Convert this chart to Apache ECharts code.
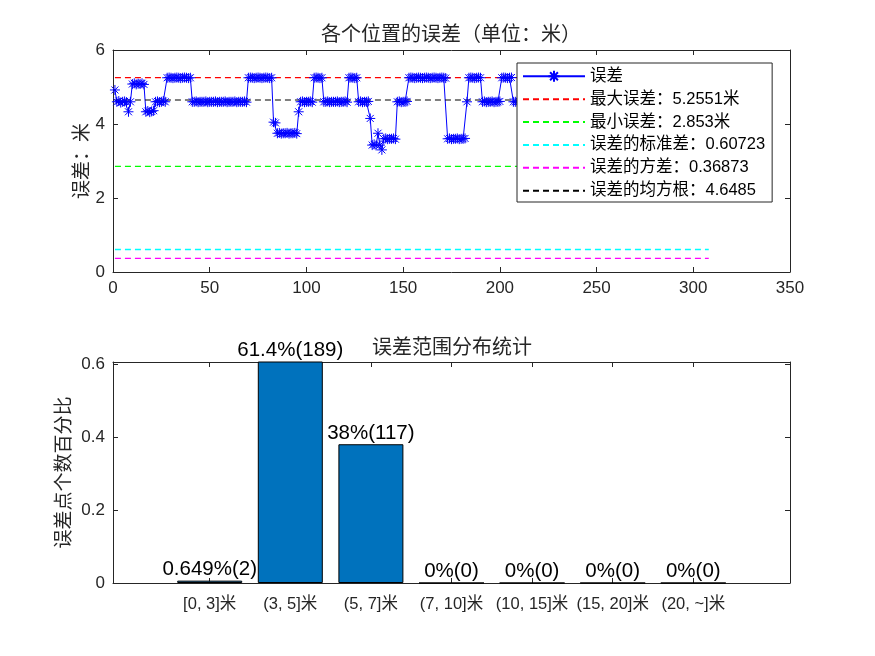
<!DOCTYPE html>
<html>
<head>
<meta charset="utf-8">
<script src="https://cdn.jsdelivr.net/npm/echarts@6/dist/echarts.min.js"></script>
<style>
    html, body { margin: 0; padding: 0; background: #fff; }
    #chart { width: 875px; height: 656px; }
</style>
</head>
<body>
<div id="chart"></div>
<script>
// 各点误差（米），按位置序号 1..308
var errorValues = [
    4.92,
    4.6, 4.62, 4.58, 4.6, 4.61, 4.59,
    4.33,
    4.6,
    5.08, 5.1, 5.07, 5.09, 5.08, 5.1, 5.07,
    4.33, 4.35, 4.32, 4.34, 4.36,
    4.6, 4.61, 4.59, 4.6, 4.62, 4.6,
    5.25, 5.2551, 5.25, 5.24, 5.25, 5.2551, 5.25, 5.24, 5.25, 5.2551, 5.25, 5.24, 5.25,
    4.6, 4.6, 4.61, 4.59, 4.6, 4.6, 4.6, 4.61, 4.59, 4.6, 4.6, 4.6, 4.61, 4.59, 4.6,
    4.6, 4.6, 4.61, 4.59, 4.6, 4.6, 4.6, 4.61, 4.59, 4.6, 4.6, 4.6, 4.61, 4.59,
    5.25, 5.2551, 5.25, 5.24, 5.25, 5.2551, 5.25, 5.24, 5.25, 5.2551, 5.25, 5.24, 5.25,
    4.05, 4.03,
    3.75, 3.76, 3.74, 3.75, 3.75, 3.76, 3.74, 3.75, 3.75, 3.76, 3.74,
    4.33,
    4.6, 4.61, 4.59, 4.6, 4.6, 4.61, 4.59,
    5.25, 5.2551, 5.25, 5.24, 5.25,
    4.6, 4.6, 4.61, 4.59, 4.6, 4.6, 4.6, 4.61, 4.59, 4.6, 4.6, 4.61, 4.59,
    5.25, 5.2551, 5.25, 5.24, 5.25,
    4.6, 4.61, 4.59, 4.6, 4.6, 4.61,
    4.15,
    3.43, 3.45, 3.42,
    3.75,
    3.43,
    3.3,
    3.6, 3.61, 3.59, 3.6, 3.6, 3.61, 3.59,
    4.6, 4.61, 4.59, 4.6, 4.6, 4.61,
    5.25, 5.2551, 5.25, 5.24, 5.25, 5.2551, 5.25, 5.24, 5.25, 5.2551,
    5.25, 5.24, 5.25, 5.2551, 5.25, 5.24, 5.25, 5.2551, 5.25, 5.24,
    3.6, 3.61, 3.59, 3.6, 3.6, 3.61, 3.59, 3.6, 3.6, 3.61,
    4.6,
    5.25, 5.2551, 5.25, 5.24, 5.25, 5.2551, 5.25,
    4.6, 4.61, 4.59, 4.6, 4.6, 4.61, 4.59, 4.6, 4.6, 4.61,
    5.25, 5.2551, 5.25, 5.24, 5.25, 5.2551,
    4.6, 4.6,
    4.6, 4.61, 4.59, 4.6, 4.6, 4.61, 4.59,
    5.25, 5.2551, 5.25, 5.24, 5.25, 5.2551, 5.25, 5.24, 5.25, 5.2551, 5.25, 5.24, 5.25, 5.2551, 5.25,
    4.6, 4.61, 4.59, 4.6, 4.6, 4.61, 4.59, 4.6, 4.6, 4.61,
    2.853, 2.95,
    3.6, 3.61, 3.59, 3.6, 3.6, 3.61, 3.59, 3.6,
    4.6, 4.61, 4.59, 4.6, 4.6, 4.61, 4.59, 4.6, 4.6, 4.61, 4.59, 4.6,
    5.25, 5.2551, 5.25, 5.24, 5.25, 5.2551, 5.25, 5.24, 5.25, 5.2551, 5.25, 5.24, 5.25,
    4.6, 4.61, 4.59, 4.6, 4.6, 4.61, 4.59, 4.6, 4.6, 4.61, 4.59, 4.6, 4.6, 4.61, 4.59,
    5.25, 5.2551, 5.25, 5.24, 5.25, 5.2551, 5.25, 5.24, 5.25, 5.2551, 5.25, 5.24, 5.25,
    4.6, 4.61, 4.59, 4.6, 4.6
];

// 统计量（图例里的数值）
var maxErr = 5.2551;
var minErr = 2.853;
var stdErr = 0.60723;
var varErr = 0.36873;
var rmsErr = 4.6485;

// 误差范围分布
var rangeLabels = ['[0, 3]米', '(3, 5]米', '(5, 7]米', '(7, 10]米', '(10, 15]米', '(15, 20]米', '(20, ~]米'];
var rangeCounts = [2, 189, 117, 0, 0, 0, 0];
var rangeIdx = [1, 2, 3, 4, 5, 6, 7];
var pctTicks = [0, 0.2, 0.4, 0.6];

var font = '"Liberation Sans", "Noto Sans CJK SC", sans-serif';
var axisColor = '#262626';

var total = rangeCounts.reduce(function (a, b) { return a + b; }, 0);
var barData = rangeCounts.map(function (c, i) {
    return [rangeIdx[i], c / total];
});
function pctText(c) {
    return parseFloat((c / total * 100).toPrecision(3)) + '%(' + c + ')';
}

var lastIdx = errorValues.length;
var errData = errorValues.map(function (v, i) { return [i + 1, v]; });
function flat(v) { return [[1, v], [lastIdx, v]]; }

var statLines = [
    { name: '最大误差：' + maxErr + '米', v: maxErr, color: '#ff0000', w: 1.2 },
    { name: '最小误差：' + minErr + '米', v: minErr, color: '#00ff00', w: 1.2 },
    { name: '误差的标准差：' + stdErr, v: stdErr, color: '#00ffff', w: 1.6 },
    { name: '误差的方差：' + varErr, v: varErr, color: '#ff00ff', w: 1.2 },
    { name: '误差的均方根：' + rmsErr, v: rmsErr, color: '#000000', w: 1.2 }
];

var asterisk = 'path://M5,0L5,10M0,5L10,5M1.5,1.5L8.5,8.5M1.5,8.5L8.5,1.5';

function boxAxis(gridIndex, pos, extra) {
    var a = {
        gridIndex: gridIndex,
        position: pos,
        axisLine: { show: true, onZero: false, lineStyle: { color: axisColor, width: 1 } },
        axisTick: { show: true, inside: true, length: 5, lineStyle: { color: axisColor } },
        axisLabel: { show: false },
        splitLine: { show: false }
    };
    for (var k in extra) a[k] = extra[k];
    return a;
}

var series = [{
    name: '误差',
    type: 'line',
    xAxisIndex: 0,
    yAxisIndex: 0,
    data: errData,
    symbol: asterisk,
    symbolSize: 10,
    showAllSymbol: true,
    lineStyle: { color: '#0000ff', width: 1 },
    itemStyle: { color: '#0000ff', borderColor: '#0000ff', borderWidth: 1 },
    animation: false
}];
statLines.forEach(function (s) {
    series.push({
        name: s.name,
        type: 'line',
        xAxisIndex: 0,
        yAxisIndex: 0,
        data: flat(s.v),
        symbol: 'none',
        lineStyle: { color: s.color, width: s.w, type: [6, 4] },
        itemStyle: { color: s.color },
        animation: false
    });
});
series.push({
    type: 'bar',
    xAxisIndex: 2,
    yAxisIndex: 2,
    data: barData,
    barWidth: 65,
    clip: true,
    itemStyle: { color: '#0072BD', borderColor: '#000', borderWidth: 1 },
    label: {
        show: true,
        position: 'top',
        distance: 1,
        fontFamily: font,
        fontSize: 20.5,
        color: '#000',
        formatter: function (p) { return pctText(rangeCounts[p.dataIndex]); }
    },
    animation: false
});

var option = {
    backgroundColor: '#fff',
    textStyle: { fontFamily: font },
    graphic: [
        { type: 'text', x: 451, y: 35, style: { text: '各个位置的误差（单位：米）', font: '20px ' + font, fill: axisColor, textAlign: 'center', textVerticalAlign: 'middle' } },
        { type: 'text', x: 452, y: 348, style: { text: '误差范围分布统计', font: '20px ' + font, fill: axisColor, textAlign: 'center', textVerticalAlign: 'middle' } }
    ],
    legend: {
        orient: 'vertical',
        left: 517,
        top: 63,
        padding: [5, 7, 3, 5],
        itemGap: 6.4,
        itemWidth: 62,
        itemHeight: 14,
        backgroundColor: '#fff',
        borderColor: '#262626',
        borderWidth: 1,
        borderRadius: 0,
        textStyle: { fontFamily: font, fontSize: 16.5, color: '#000' },
        data: [{ name: '误差' }].concat(statLines.map(function (s) {
            return { name: s.name, itemStyle: { opacity: 0 } };
        }))
    },
    grid: [
        { left: 113, right: 85, top: 50, bottom: 384 },
        { left: 113, right: 85, top: 362, bottom: 73 }
    ],
    xAxis: [
        boxAxis(0, 'bottom', {
            type: 'value', min: 0, max: 350, interval: 50,
            axisLabel: { show: true, fontSize: 17, color: axisColor, margin: 8, fontFamily: font }
        }),
        boxAxis(0, 'top', { type: 'value', min: 0, max: 350, interval: 50 }),
        boxAxis(1, 'bottom', {
            type: 'value', min: -0.2, max: 8.2,
            axisTick: { show: true, inside: true, length: 5, customValues: rangeIdx, lineStyle: { color: axisColor } },
            axisLabel: {
                show: true, fontSize: 16.5, color: axisColor, margin: 13, fontFamily: font,
                customValues: rangeIdx,
                formatter: function (v) { return rangeLabels[Math.round(v) - 1]; }
            }
        }),
        boxAxis(1, 'top', {
            type: 'value', min: -0.2, max: 8.2,
            axisTick: { show: true, inside: true, length: 5, customValues: rangeIdx, lineStyle: { color: axisColor } }
        })
    ],
    yAxis: [
        boxAxis(0, 'left', {
            type: 'value', min: 0, max: 6, interval: 2,
            name: '误差：米', nameLocation: 'middle', nameGap: 21, nameRotate: 90,
            nameMoveOverlap: false,
            nameTextStyle: { fontSize: 19, color: axisColor, fontFamily: font },
            axisLabel: { show: true, fontSize: 17, color: axisColor, margin: 8, fontFamily: font }
        }),
        boxAxis(0, 'right', { type: 'value', min: 0, max: 6, interval: 2 }),
        boxAxis(1, 'left', {
            type: 'value', min: 0, max: 0.605, interval: 0.2,
            name: '误差点个数百分比', nameLocation: 'middle', nameGap: 39, nameRotate: 90,
            nameMoveOverlap: false,
            nameTextStyle: { fontSize: 19, color: axisColor, fontFamily: font },
            axisTick: { show: true, inside: true, length: 5, customValues: pctTicks, lineStyle: { color: axisColor } },
            axisLabel: {
                show: true, fontSize: 17, color: axisColor, margin: 8, fontFamily: font,
                customValues: pctTicks,
                formatter: function (v) { return v === 0 ? '0' : String(Math.round(v * 10) / 10); }
            }
        }),
        boxAxis(1, 'right', {
            type: 'value', min: 0, max: 0.605, interval: 0.2,
            axisTick: { show: true, inside: true, length: 5, customValues: pctTicks, lineStyle: { color: axisColor } }
        })
    ],
    series: series
};

var myChart = echarts.init(document.getElementById('chart'));
myChart.setOption(option);
</script>
</body>
</html>
